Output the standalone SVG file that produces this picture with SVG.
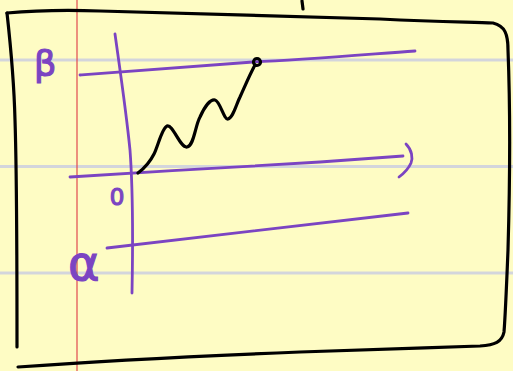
<svg xmlns="http://www.w3.org/2000/svg" width="513" height="371" viewBox="0 0 513 371">
<defs>
<style>
.rule{stroke:#D3D5DC;stroke-width:3;fill:none}
.margin{stroke:#E0484F;stroke-width:1.2;fill:none}
.ink{stroke:#000;stroke-width:3.2;fill:none;stroke-linecap:round;stroke-linejoin:round}
.pur{stroke:#7B44C2;stroke-width:2.8;fill:none;stroke-linecap:round;stroke-linejoin:round}
.lbl{fill:#7B44C2;stroke:#7B44C2;stroke-width:1.2;font-family:"DejaVu Sans",sans-serif}
</style>
</defs>
<g id="paper">
<rect x="0" y="0" width="513" height="371" fill="#FEFCC4"/>
<line class="rule" x1="0" y1="60" x2="513" y2="60"/>
<line class="rule" x1="0" y1="166.5" x2="513" y2="166.5"/>
<line class="rule" x1="0" y1="273" x2="513" y2="273"/>
<line class="margin" x1="77" y1="0" x2="77" y2="371"/>
</g>
<g id="frame">
<path class="ink" d="M7,13 C40,10 70,10 100,11 C200,14 300,16 380,19 C440,22 470,22 493,23 C505,26 508,34 508,50 C510,100 510,180 508,250 C506,300 505,320 504,332 C502,342 495,345 480,346 C420,348 380,349 300,352 C200,356 100,361 18,367"/>
<path class="ink" d="M7,13 C10,40 14,80 15,120 C17,180 17,250 17,347"/>
<path class="ink" d="M302,1 L303,9"/>
</g>
<g id="axes">
<path class="pur" d="M115,34 C120,70 126,110 130,150 C133,190 133,240 132,293"/>
<path class="pur" d="M80,75 C140,71 200,66 253,62 C300,60 360,55 415,51"/>
<path class="pur" d="M70,177 C150,172 250,166 320,162 C360,159 390,157 403,156"/>
<path class="pur" d="M406,144 C412,150 413,158 411,163 C408,170 403,174 399,177"/>
<path class="pur" d="M107,248 C200,238 300,226 408,213"/>
</g>
<g id="path">
<path class="ink" d="M138,173 C146,167 150,162 154,154 C158,146 162,128 167,126 C173,124 180,148 187,147 C194,146 195,126 200,117 C204,108 210,99 215,100 C220,101 224,120 228,119 C233,118 236,105 240,97 C245,86 250,74 255,65"/>
<circle class="ink" cx="257" cy="62" r="3.5"/>
</g>
<g id="labels">
<text class="lbl" x="34" y="76" font-size="35">β</text>
<text class="lbl" x="117" y="205" font-size="23" text-anchor="middle">0</text>
<text class="lbl" x="68" y="280" font-size="48">α</text>
</g>
</svg>
